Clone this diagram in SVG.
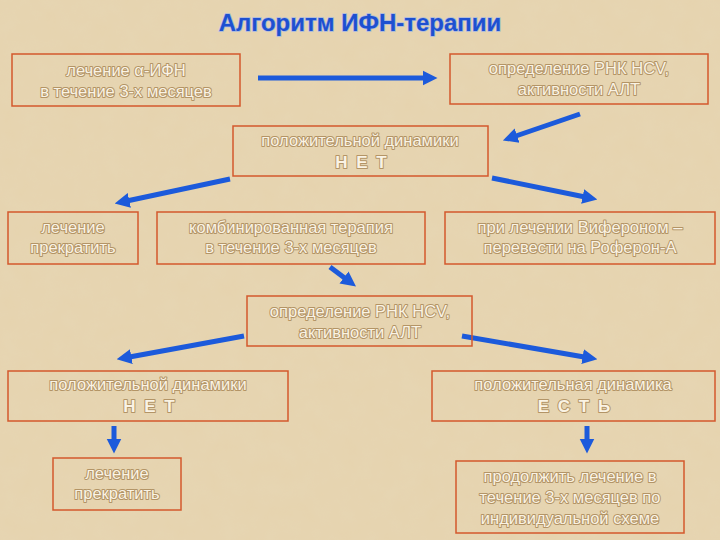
<svg xmlns="http://www.w3.org/2000/svg" width="720" height="540" viewBox="0 0 720 540">
<style>
.b{fill:none;stroke:#D4582C;stroke-width:1.5}
.t{font-family:"Liberation Sans",Arial,sans-serif;font-size:16.5px;fill:#FAF3E4;text-anchor:middle;stroke:#B39466;stroke-width:2;paint-order:stroke;stroke-linejoin:round}
.k{font-weight:bold;font-size:17px;letter-spacing:2px}
.a{stroke:#1C5ADB;stroke-width:5;fill:none;marker-end:url(#h)}
</style>
<defs>
<marker id="h" viewBox="0 0 10 10" refX="5" refY="5" markerWidth="3" markerHeight="3.4" orient="auto" markerUnits="strokeWidth">
<path d="M0,0 L10,5 L0,10 z" fill="#1C5ADB"/>
</marker>
<filter id="n"><feTurbulence type="fractalNoise" baseFrequency="0.05" numOctaves="3" seed="3"/><feColorMatrix values="0 0 0 0 0.8  0 0 0 0 0.7  0 0 0 0 0.5  0 0 0 0.35 0"/><feComposite in2="SourceGraphic" operator="in"/></filter>
</defs>
<rect width="720" height="540" fill="#E6D3AE"/>
<rect width="720" height="540" fill="#E6D3AE" filter="url(#n)"/>
<text x="360" y="31" font-family="Liberation Sans,Arial,sans-serif" font-size="24" font-weight="bold" fill="#1E50D0" text-anchor="middle" stroke="#A8B8E0" stroke-width="1.5" paint-order="stroke">Алгоритм ИФН-терапии</text>
<g id="connectors">
<line class="a" x1="258" y1="78" x2="430" y2="78"/>
<line class="a" x1="580" y1="114" x2="510" y2="138"/>
<line class="a" x1="230" y1="179" x2="122" y2="202"/>
<line class="a" x1="492" y1="178" x2="590" y2="198"/>
<line class="a" x1="330" y1="267" x2="350" y2="282"/>
<line class="a" x1="244" y1="336" x2="124" y2="358"/>
<line class="a" x1="462" y1="336" x2="590" y2="358"/>
<line class="a" x1="114" y1="426" x2="114" y2="446"/>
<line class="a" x1="587" y1="426" x2="587" y2="446"/>
</g>
<g id="n1"><rect class="b" x="12" y="54" width="228" height="52"/><text class="t" x="126" y="76">лечение α-ИФН</text><text class="t" x="126" y="97">в течение 3-х месяцев</text></g>
<g id="n2"><rect class="b" x="450" y="54" width="258" height="50"/><text class="t" x="579" y="74">определение РНК HCV,</text><text class="t" x="579" y="95">активности АЛТ</text></g>
<g id="n3"><rect class="b" x="233" y="126" width="255" height="50"/><text class="t" x="360" y="146">положительной динамики</text><text class="t k" x="362" y="168">Н Е Т</text></g>
<g id="n4"><rect class="b" x="8" y="212" width="130" height="52"/><text class="t" x="73" y="233">лечение</text><text class="t" x="73" y="253">прекратить</text></g>
<g id="n5"><rect class="b" x="157" y="212" width="268" height="52"/><text class="t" x="291" y="233">комбинированная терапия</text><text class="t" x="291" y="253">в течение 3-х месяцев</text></g>
<g id="n6"><rect class="b" x="445" y="212" width="270" height="52"/><text class="t" x="580" y="233">при лечении Вифероном –</text><text class="t" x="580" y="253">перевести на Роферон-А</text></g>
<g id="n7"><rect class="b" x="247" y="296" width="225" height="50"/><text class="t" x="360" y="317">определение РНК HCV,</text><text class="t" x="360" y="338">активности АЛТ</text></g>
<g id="n8"><rect class="b" x="8" y="371" width="280" height="50"/><text class="t" x="148" y="390">положительной динамики</text><text class="t k" x="150" y="412">Н Е Т</text></g>
<g id="n9"><rect class="b" x="432" y="371" width="283" height="50"/><text class="t" x="573" y="390">положительная динамика</text><text class="t k" x="575" y="412">Е С Т Ь</text></g>
<g id="n10"><rect class="b" x="53" y="458" width="128" height="52"/><text class="t" x="117" y="479">лечение</text><text class="t" x="117" y="499">прекратить</text></g>
<g id="n11"><rect class="b" x="456" y="461" width="228" height="72"/><text class="t" x="570" y="482">продолжить лечение в</text><text class="t" x="570" y="503">течение 3-х месяцев по</text><text class="t" x="570" y="524">индивидуальной схеме</text></g>
</svg>
